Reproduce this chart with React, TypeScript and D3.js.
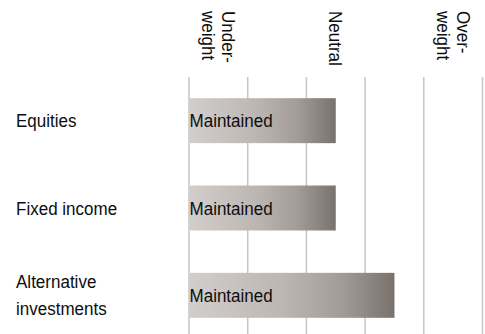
import React from "react";
import * as d3 from "d3";

const categories: string[][] = [["Equities"], ["Fixed income"], ["Alternative", "investments"]];
const values: number[] = [2.5, 2.5, 3.5];
const barLabels: string[] = ["Maintained", "Maintained", "Maintained"];
const headerLabels: string[][] = [["Under-", "weight"], ["Neutral"], ["Over-", "weight"]];
const headerPositions: number[] = [0.5, 2.5, 4.5];
const gridTicks: number[] = [0, 1, 2, 3, 4, 5];

const W = 485;
const H = 334;
const FONT = "'Liberation Sans', Arial, sans-serif";
const FS = 18.5;
const SX = 0.92;

function Label({ x, y, children }: { x: number; y: number; children: React.ReactNode }) {
  return (
    <text transform={`translate(${x},${y}) scale(${SX},1)`} fontSize={FS} fill="#0d0d0d">
      {children}
    </text>
  );
}

export default function App() {
  const x = d3.scaleLinear().domain([0, 5]).range([189, 482.5]);
  const y = d3
    .scaleBand<number>()
    .domain(categories.map((_, i) => i))
    .range([77, 339])
    .paddingInner(0.485)
    .paddingOuter(0.2425);
  const bw = y.bandwidth();

  return (
    <svg
      width={W}
      height={H}
      style={{ position: "absolute", left: 0, top: 0, display: "block" }}
      fontFamily={FONT}
    >
      <defs>
        <linearGradient id="barGrad" x1="0" y1="0" x2="1" y2="0">
          <stop offset="0" stopColor="#d2cecb" />
          <stop offset="0.45" stopColor="#bdb7b3" />
          <stop offset="0.75" stopColor="#a29a95" />
          <stop offset="1" stopColor="#79716c" />
        </linearGradient>
      </defs>
      <rect width={W} height={H} fill="#ffffff" />
      {gridTicks.map((t) => (
        <line
          key={t}
          x1={x(t)}
          x2={x(t)}
          y1={77}
          y2={H}
          stroke="#c6c6c6"
          strokeWidth={1.5}
        />
      ))}
      {headerLabels.map((lines, i) => {
        const cx = x(headerPositions[i]);
        const n = lines.length;
        return (
          <g key={i} transform={`translate(${cx},11) rotate(90)`}>
            {lines.map((ln, j) => (
              <Label key={j} x={0} y={6.5 - ((n - 1) * 20) / 2 + j * 20}>
                {ln}
              </Label>
            ))}
          </g>
        );
      })}
      {values.map((v, i) => {
        const top = y(i) as number;
        const cy = top + bw / 2;
        const lines = categories[i];
        const n = lines.length;
        return (
          <g key={i}>
            <rect
              x={x(0)}
              y={top}
              width={x(v) - x(0)}
              height={bw}
              fill="url(#barGrad)"
            />
            <Label x={x(0) + 0.5} y={cy + 6.5}>
              {barLabels[i]}
            </Label>
            {lines.map((ln, j) => (
              <Label key={j} x={16} y={cy + 6.5 - ((n - 1) * 27) / 2 + j * 27}>
                {ln}
              </Label>
            ))}
          </g>
        );
      })}
    </svg>
  );
}
